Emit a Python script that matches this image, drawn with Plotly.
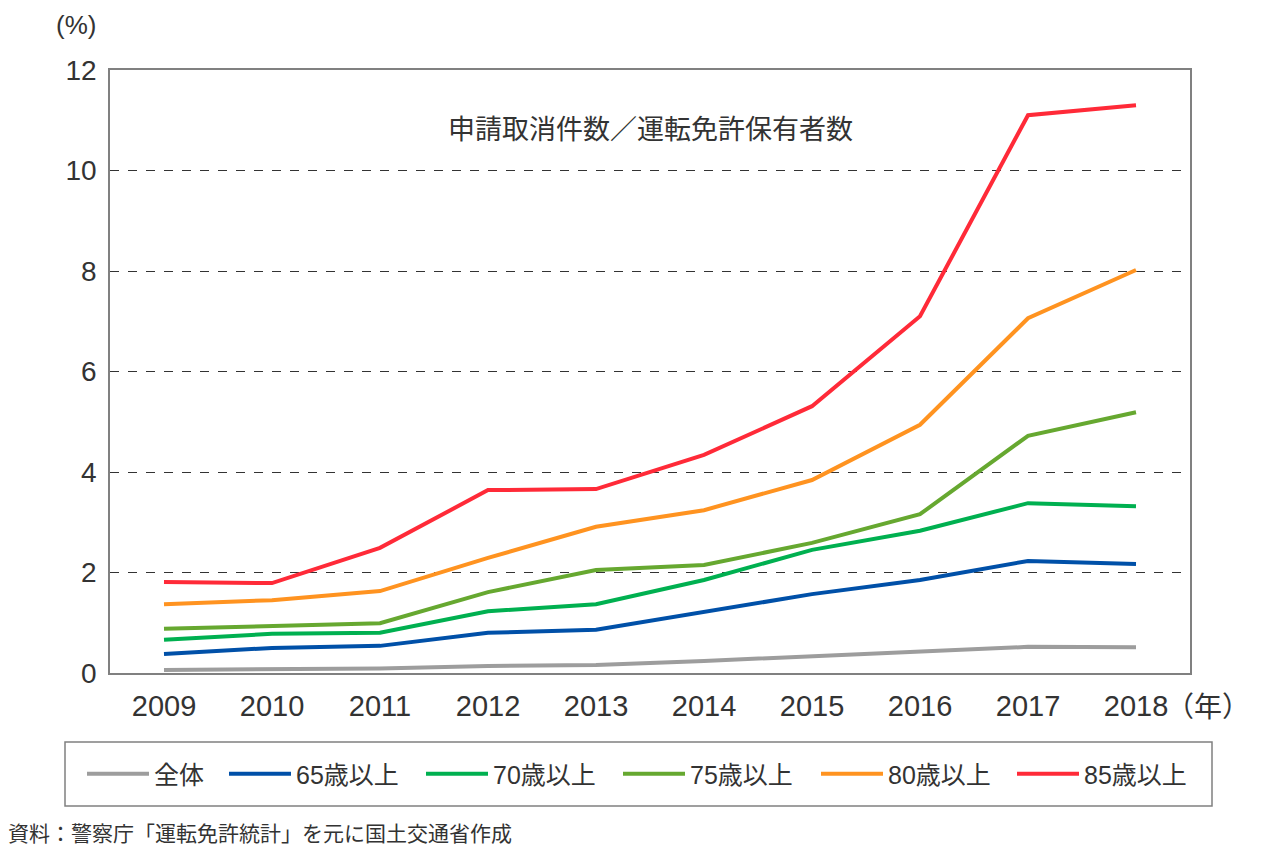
import plotly.graph_objects as go

years = ["2009", "2010", "2011", "2012", "2013", "2014", "2015", "2016", "2017", "2018"]
all_ages = [0.06, 0.08, 0.09, 0.14, 0.16, 0.24, 0.34, 0.42, 0.52, 0.51]
age65 = [0.38, 0.50, 0.54, 0.80, 0.86, 1.21, 1.57, 1.85, 2.23, 2.17]
age70 = [0.66, 0.78, 0.80, 1.23, 1.37, 1.85, 2.45, 2.83, 3.38, 3.32]
age75 = [0.88, 0.94, 0.99, 1.61, 2.05, 2.15, 2.59, 3.16, 4.72, 5.19]
age80 = [1.37, 1.45, 1.63, 2.29, 2.91, 3.24, 3.84, 4.94, 7.06, 8.02]
age85 = [1.81, 1.79, 2.49, 3.64, 3.66, 4.34, 5.31, 7.10, 11.10, 11.30]

series_names = ["全体", "65歳以上", "70歳以上", "75歳以上", "80歳以上", "85歳以上"]
series_vals = [all_ages, age65, age70, age75, age80, age85]
colors = ["#9d9d9d", "#0050a8", "#00b050", "#66a830", "#ff9320", "#ff2a38"]
legend_px = [86, 228, 425, 622, 820, 1016]

FONT = "Liberation Sans, Noto Sans CJK JP, sans-serif"
JP = "Noto Sans CJK JP, sans-serif"
TXT = "#333333"

L, R, T, B = 110, 74, 70, 180
PW, PH = 1264 - L - R, 853 - T - B

fig = go.Figure()
legend_layouts = {}
for i, (name, vals, c) in enumerate(zip(series_names, series_vals, colors)):
    key = "legend" if i == 0 else f"legend{i + 1}"
    fig.add_trace(go.Scatter(x=years, y=vals, name=name, mode="lines",
                             line=dict(color=c, width=4), legend=key))
    legend_layouts[key] = dict(
        orientation="h", x=(legend_px[i] - 4 - L) / PW, xanchor="left",
        y=-(774 - (T + PH)) / PH, yanchor="middle",
        font=dict(family=FONT, size=25, color=TXT), itemwidth=62,
        bgcolor="rgba(0,0,0,0)")

fig.update_layout(
    width=1264, height=853,
    margin=dict(l=L, r=R, t=T, b=B),
    paper_bgcolor="white", plot_bgcolor="white",
    font=dict(family=FONT, color=TXT),
    showlegend=True,
    xaxis=dict(type="category", range=[-0.5, 9.5], showgrid=False,
               showline=True, linecolor="#808080", linewidth=1.5, mirror=True,
               ticks="", ticklabelstandoff=6, tickfont=dict(size=29, color=TXT, family=FONT)),
    yaxis=dict(range=[0, 12], dtick=2, tick0=0, showgrid=True,
               gridcolor="#333333", griddash="dash", gridwidth=1,
               zeroline=False,
               showline=True, linecolor="#808080", linewidth=1.5, mirror=True,
               ticks="", ticklabelstandoff=6,
               tickfont=dict(size=28, color=TXT, family=FONT)),
    **legend_layouts,
)

fig.add_shape(type="rect", xref="paper", yref="paper",
              x0=(65 - L) / PW, x1=(1212 - L) / PW,
              y0=-(806 - 673) / PH, y1=-(742 - 673) / PH,
              line=dict(color="#808080", width=1.5), fillcolor="rgba(0,0,0,0)")

fig.add_annotation(text="申請取消件数／運転免許保有者数", xref="paper", yref="paper",
                   x=(650 - L) / PW, y=(673 - 127) / PH, showarrow=False,
                   font=dict(family=JP, size=27, color=TXT), xanchor="center", yanchor="middle")
fig.add_annotation(text="(%)", xref="paper", yref="paper",
                   x=(76 - L) / PW, y=(673 - 25) / PH, showarrow=False,
                   font=dict(family=FONT, size=26, color=TXT), xanchor="center", yanchor="middle")
fig.add_annotation(text="（年）", xref="paper", yref="paper",
                   x=(1164 - L) / PW, y=-(705 - 673) / PH, showarrow=False,
                   font=dict(family=JP, size=28, color=TXT), xanchor="left", yanchor="middle")
fig.add_annotation(text="資料：警察庁「運転免許統計」を元に国土交通省作成", xref="paper", yref="paper",
                   x=(6 - L) / PW, y=-(832 - 673) / PH, showarrow=False,
                   font=dict(family=JP, size=21, color=TXT), xanchor="left", yanchor="middle")

fig.write_html("out.html")
